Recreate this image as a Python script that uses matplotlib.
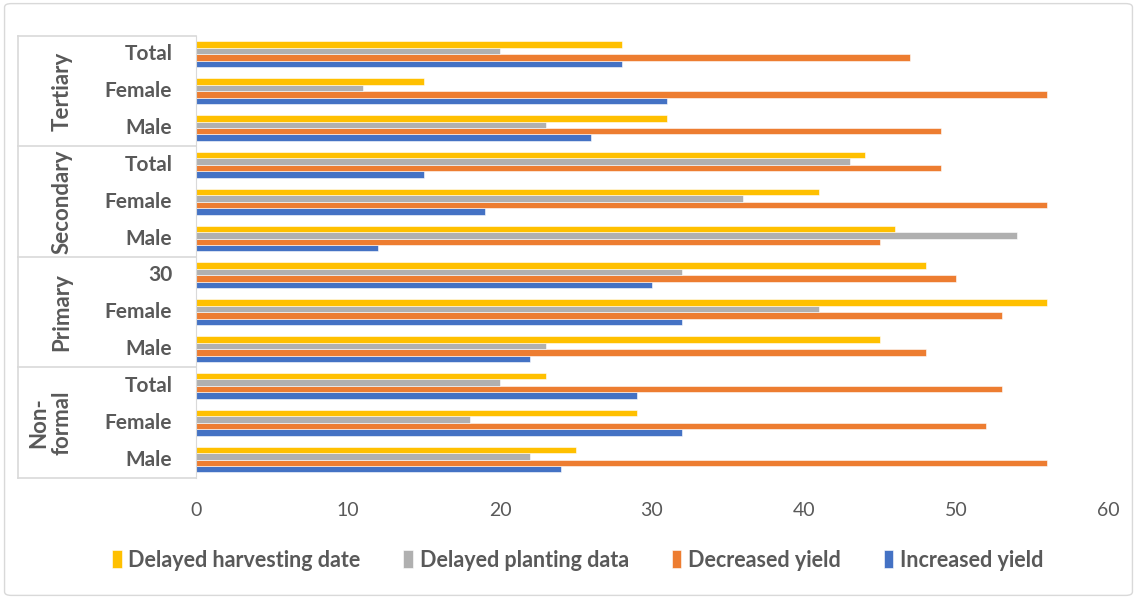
import numpy as np
import matplotlib.pyplot as plt
from matplotlib.patches import FancyBboxPatch
from matplotlib.lines import Line2D

# Categories from bottom to top
sub_labels = ["Male", "Female", "Total",
              "Male", "Female", "30",
              "Male", "Female", "Total",
              "Male", "Female", "Total"]
group_labels = ["Non-\nformal", "Primary", "Secondary", "Tertiary"]

series_names = ["Increased yield", "Decreased yield",
                "Delayed planting data", "Delayed harvesting date"]
increased = [24, 32, 29, 22, 32, 30, 12, 19, 15, 26, 31, 28]
decreased = [56, 52, 53, 48, 53, 50, 45, 56, 49, 49, 56, 47]
planting = [22, 18, 20, 23, 41, 32, 54, 36, 43, 23, 11, 20]
harvesting = [25, 29, 23, 45, 56, 48, 46, 41, 44, 31, 15, 28]

colors = ["#4472C4", "#ED7D31", "#B0B0B0", "#FFC000"]
text_col = "#595959"
plt.rcParams["font.family"] = ["Lato", "DejaVu Sans"]

fig = plt.figure(figsize=(11.37, 5.99), dpi=100)
ax = fig.add_axes([0.1724, 0.202, 0.802, 0.738])

y = np.arange(len(sub_labels))
h = 0.175
for k, vals in enumerate([increased, decreased, planting, harvesting]):
    ax.barh(y + (k - 1.5) * h, vals, height=h, color=colors[k],
            edgecolor="white", linewidth=0.4, label=series_names[k])

ax.set_xlim(0, 60)
ax.set_ylim(-0.5, len(sub_labels) - 0.5)
ax.set_xticks(range(0, 61, 10))
ax.tick_params(axis="x", length=0, labelsize=14, labelcolor=text_col, pad=17)
ax.set_yticks([])
for s in ["top", "right", "bottom"]:
    ax.spines[s].set_visible(False)
ax.spines["left"].set_color("#D9D9D9")

# category table on the left
tr = ax.get_yaxis_transform()
for yi, lab in zip(y, sub_labels):
    ax.text(-0.026, yi, lab, transform=tr, ha="right", va="center",
            fontsize=15, fontweight="bold", color=text_col)
for g, lab in enumerate(group_labels):
    xc = -0.147 if "\n" not in lab else -0.16
    ax.text(xc, 3 * g + 1, lab, transform=tr, ha="center", va="center",
            rotation=90, fontsize=16, fontweight="bold", color=text_col,
            linespacing=1.15)
for yb in [-0.5, 2.5, 5.5, 8.5, 11.5]:
    ax.add_line(Line2D([-0.195, 0], [yb, yb], transform=tr, color="#D9D9D9",
                       lw=1.2, clip_on=False))
ax.add_line(Line2D([-0.195, -0.195], [-0.5, 11.5], transform=tr,
                   color="#D9D9D9", lw=1.2, clip_on=False))

# legend
handles, labels = ax.get_legend_handles_labels()
leg = fig.legend(handles[::-1], labels[::-1], loc="center",
                 bbox_to_anchor=(0.508, 0.065), ncol=4, frameon=False,
                 handlelength=0.45, handleheight=0.9, handletextpad=0.3,
                 columnspacing=2.0,
                 prop={"size": 15.5, "weight": "bold"})
for t in leg.get_texts():
    t.set_color(text_col)

# outer border
fig.patches.append(FancyBboxPatch((0.004, 0.006), 0.992, 0.988,
                                  boxstyle="round,pad=0,rounding_size=0.006",
                                  transform=fig.transFigure, fill=False,
                                  edgecolor="#D9D9D9", lw=1))

fig.savefig("out.png", dpi=100)
